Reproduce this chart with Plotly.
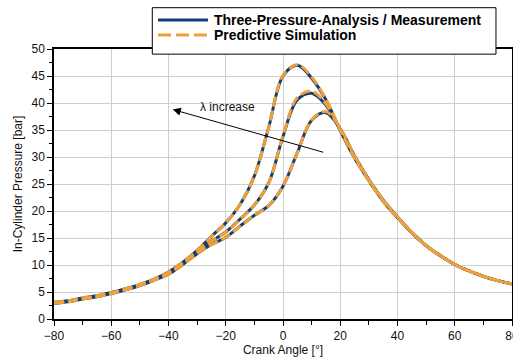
import plotly.graph_objects as go

angle = [-80, -75, -70, -65, -60, -55, -50, -45, -40, -35, -30, -25, -20, -15, -10, -5,
         0, 5, 10, 15, 20, 25, 30, 35, 40, 45, 50, 55, 60, 65, 70, 75, 80]

meas_1 = [3.1, 3.4, 3.9, 4.3, 4.9, 5.6, 6.4, 7.4, 8.7, 10.5, 12.7, 15.3, 17.8, 21.2, 26.5, 35.5,
          45.0, 47.0, 44.6, 40.6, 34.9, 29.8, 25.6, 21.8, 18.8, 16.0, 13.6, 11.7, 10.1, 8.9, 7.9, 7.1, 6.5]
meas_2 = [3.0, 3.3, 3.8, 4.2, 4.8, 5.5, 6.3, 7.3, 8.5, 10.3, 12.4, 14.4, 16.1, 18.5, 21.1, 25.2,
          33.8, 40.6, 41.8, 39.6, 35.0, 30.0, 25.7, 21.9, 18.8, 16.0, 13.6, 11.7, 10.1, 8.9, 7.9, 7.1, 6.5]
meas_3 = [2.9, 3.2, 3.7, 4.1, 4.7, 5.4, 6.2, 7.2, 8.3, 10.1, 12.1, 13.8, 15.1, 17.2, 19.2, 21.0,
          24.6, 30.8, 36.8, 38.2, 35.2, 30.2, 25.8, 22.0, 18.9, 16.0, 13.6, 11.7, 10.1, 8.9, 7.9, 7.1, 6.5]

sim_1 = [3.1, 3.4, 3.9, 4.3, 4.9, 5.6, 6.4, 7.4, 8.7, 10.5, 12.7, 15.3, 17.8, 21.2, 26.5, 35.5,
         45.1, 47.1, 44.8, 40.7, 35.0, 29.9, 25.6, 21.8, 18.8, 16.0, 13.6, 11.7, 10.1, 8.9, 7.9, 7.1, 6.5]
sim_2 = [3.0, 3.3, 3.8, 4.2, 4.8, 5.5, 6.3, 7.3, 8.5, 10.3, 12.4, 14.4, 16.1, 18.5, 21.1, 25.2,
         33.9, 41.0, 42.2, 39.8, 35.1, 30.0, 25.7, 21.9, 18.8, 16.0, 13.6, 11.7, 10.1, 8.9, 7.9, 7.1, 6.5]
sim_3 = [2.9, 3.2, 3.7, 4.1, 4.7, 5.4, 6.2, 7.2, 8.3, 10.1, 12.1, 13.8, 15.1, 17.2, 19.2, 21.0,
         24.6, 30.8, 36.9, 38.4, 35.3, 30.2, 25.8, 22.0, 18.9, 16.0, 13.6, 11.7, 10.1, 8.9, 7.9, 7.1, 6.5]

legend_names = ["Three-Pressure-Analysis / Measurement", "Predictive Simulation"]

BLUE = "#123e78"
ORANGE = "#f0a03a"
FONT = "Liberation Sans, Arial, sans-serif"
DASH = "10px,4px"

fig = go.Figure()
for m in [meas_1, meas_2, meas_3]:
    fig.add_trace(go.Scatter(x=angle, y=m, mode="lines", line=dict(color=BLUE, width=3, shape="spline"),
                             name=legend_names[0], showlegend=False))
for s in [sim_1, sim_2, sim_3]:
    fig.add_trace(go.Scatter(x=angle, y=s, mode="lines",
                             line=dict(color=ORANGE, width=3, dash=DASH, shape="spline"),
                             name=legend_names[1], showlegend=False))

# arrow + label
fig.add_annotation(x=-38.5, y=38.8, ax=14.6, ay=30.8, xref="x", yref="y", axref="x", ayref="y",
                   text="", showarrow=True, arrowhead=2, arrowsize=1.6, arrowwidth=1,
                   arrowcolor="black", standoff=0, startstandoff=0)
fig.add_annotation(x=-19.3, y=39.2, xref="x", yref="y", text="λ increase", showarrow=False,
                   font=dict(family=FONT, size=12, color="#111"))

# legend box (drawn in paper coordinates)
fig.add_shape(type="rect", xref="paper", yref="paper", x0=0.2146, x1=0.965, y0=0.981, y1=1.153,
              fillcolor="white", line=dict(color="black", width=1), layer="above")
fig.add_shape(type="line", xref="paper", yref="paper", x0=0.2271, x1=0.3362, y0=1.1074, y1=1.1074,
              line=dict(color=BLUE, width=3), layer="above")
fig.add_shape(type="line", xref="paper", yref="paper", x0=0.2271, x1=0.3362, y0=1.0519, y1=1.0519,
              line=dict(color=ORANGE, width=3, dash="13px,5px"), layer="above")
for name, yy in zip(legend_names, [1.1074, 1.0519]):
    fig.add_annotation(x=0.3455, y=yy, xref="paper", yref="paper", text="<b>%s</b>" % name,
                       showarrow=False, xanchor="left", yanchor="middle",
                       font=dict(family=FONT, size=14, color="black"))

fig.update_layout(
    width=513, height=359,
    margin=dict(l=54, r=1, t=49, b=40),
    paper_bgcolor="white", plot_bgcolor="white",
    font=dict(family=FONT, size=12, color="#111"),
    showlegend=False,
)
fig.update_xaxes(range=[-80, 80], tickvals=[-80, -60, -40, -20, 0, 20, 40, 60, 80],
                 automargin=False, ticklabeloverflow="allow",
                 showgrid=True, gridcolor="#cfcfcf", gridwidth=1,
                 showline=True, linecolor="black", linewidth=1.5, mirror=True,
                 ticks="outside", ticklen=5, tickcolor="black",
                 minor=dict(dtick=10, ticks="outside", ticklen=4, tickcolor="black", showgrid=False),
                 zeroline=False,
                 title=dict(text="Crank Angle [°]", standoff=2, font=dict(size=12)),
                 tickfont=dict(size=12))
fig.update_yaxes(range=[0, 50], dtick=5, automargin=False,
                 showgrid=True, gridcolor="#cfcfcf", gridwidth=1,
                 showline=True, linecolor="black", linewidth=1.5, mirror=True,
                 ticks="outside", ticklen=5, tickcolor="black",
                 minor=dict(dtick=2.5, ticks="outside", ticklen=3, tickcolor="black", showgrid=False),
                 zeroline=False,
                 title=dict(text="In-Cylinder Pressure [bar]", standoff=6, font=dict(size=12)),
                 tickfont=dict(size=12))

fig.write_html("out.html", config={"displayModeBar": False},
               post_script="document.body.style.margin='0';document.body.style.overflow='hidden';")
